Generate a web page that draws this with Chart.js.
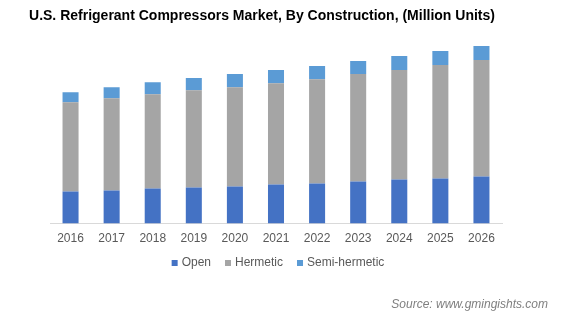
<!DOCTYPE html>
<html>
<head>
<meta charset="utf-8">
<script src="https://cdn.jsdelivr.net/npm/chart.js@4.4.1/dist/chart.umd.min.js"></script>
<style>
    html, body { margin: 0; padding: 0; background: #fff; }
    #wrap { width: 565px; height: 321px; position: relative; }
</style>
</head>
<body>
<div id="wrap"><canvas id="compressorChart"></canvas></div>
<script>
// Años y volúmenes por tipo de construcción
const years = ['2016', '2017', '2018', '2019', '2020', '2021', '2022', '2023', '2024', '2025', '2026'];
const openUnits = [32, 33, 35, 36, 37, 39, 40, 42, 44, 45, 47];
const hermeticUnits = [89, 92, 94, 97, 99, 101, 104, 107, 109, 113, 116];
const semiHermeticUnits = [10, 11, 12, 12, 13, 13, 13, 13, 14, 14, 14];

const colors = {
    open: '#4472C4',
    hermetic: '#A5A5A5',
    semi: '#5B9BD5',
    text: '#595959',
    axis: '#D9D9D9'
};

const fontFamily = '"Liberation Sans", Arial, sans-serif';

// Título, leyenda y fuente dibujados a mano
const decorations = {
    id: 'decorations',
    afterDraw(chart) {
        const ctx = chart.ctx;
        ctx.save();

        ctx.fillStyle = '#000';
        ctx.font = 'bold 14px ' + fontFamily;
        ctx.textAlign = 'center';
        ctx.textBaseline = 'middle';
        ctx.fillText('U.S. Refrigerant Compressors Market, By Construction, (Million Units)', 262, 16);

        // leyenda
        ctx.font = '12px ' + fontFamily;
        ctx.textAlign = 'left';
        const items = chart.data.datasets.map(ds => ({ label: ds.label, color: ds.backgroundColor }));
        const box = 6, gapText = 4, gapItem = 14;
        let total = 0;
        items.forEach((it, i) => {
            it.w = box + gapText + ctx.measureText(it.label).width;
            total += it.w + (i ? gapItem : 0);
        });
        let x = 278 - total / 2;
        const y = 263;
        items.forEach(it => {
            ctx.fillStyle = it.color;
            ctx.fillRect(x, y - box / 2, box, box);
            ctx.fillStyle = colors.text;
            ctx.fillText(it.label, x + box + gapText, y);
            x += it.w + gapItem;
        });

        ctx.fillStyle = '#7F7F7F';
        ctx.font = 'italic 12px ' + fontFamily;
        ctx.textAlign = 'right';
        ctx.fillText('Source: www.gmingishts.com', 548, 305);

        ctx.restore();
    }
};

new Chart(document.getElementById('compressorChart'), {
    type: 'bar',
    data: {
        labels: years,
        datasets: [
            { label: 'Open', data: openUnits, backgroundColor: colors.open },
            { label: 'Hermetic', data: hermeticUnits, backgroundColor: colors.hermetic },
            { label: 'Semi-hermetic', data: semiHermeticUnits, backgroundColor: colors.semi }
        ]
    },
    options: {
        responsive: true,
        maintainAspectRatio: false,
        animation: false,
        layout: {
            padding: { left: 50, right: 63, top: 40, bottom: 67 }
        },
        datasets: {
            bar: {
                categoryPercentage: 1,
                barPercentage: 0.39
            }
        },
        plugins: {
            legend: { display: false },
            title: { display: false },
            tooltip: { enabled: false }
        },
        scales: {
            x: {
                stacked: true,
                grid: { display: false, drawTicks: false },
                border: { color: colors.axis, width: 1 },
                ticks: {
                    color: colors.text,
                    padding: 8,
                    maxRotation: 0,
                    font: { family: fontFamily, size: 12 }
                }
            },
            y: {
                stacked: true,
                display: false,
                min: 0,
                max: 183
            }
        }
    },
    plugins: [decorations]
});
</script>
</body>
</html>
